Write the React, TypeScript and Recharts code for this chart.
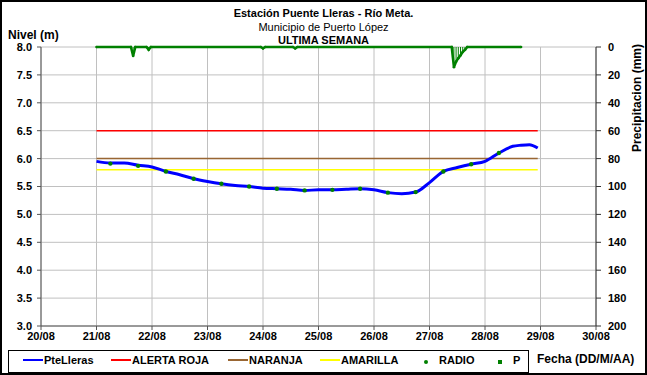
import React from 'react';
import { ComposedChart, Line, Bar, XAxis, YAxis, CartesianGrid } from 'recharts';

// Fechas (día de agosto) y etiquetas del eje X
const dayTicks = [20, 21, 22, 23, 24, 25, 26, 27, 28, 29, 30];
const dayLabels = ['20/08', '21/08', '22/08', '23/08', '24/08', '25/08', '26/08', '27/08', '28/08', '29/08', '30/08'];

const levelTicks = [3.0, 3.5, 4.0, 4.5, 5.0, 5.5, 6.0, 6.5, 7.0, 7.5, 8.0];
const rainTicks = [0, 20, 40, 60, 80, 100, 120, 140, 160, 180, 200];

// Nivel PteLleras (m)
const levelTime = [
    21.0, 21.25, 21.5, 21.75, 22.0, 22.25, 22.5, 22.75, 23.0, 23.25, 23.5, 23.75,
    24.0, 24.25, 24.5, 24.75, 25.0, 25.25, 25.5, 25.75, 26.0, 26.25, 26.5, 26.75,
    27.0, 27.25, 27.5, 27.75, 28.0, 28.25, 28.5, 28.65, 28.8, 28.95,
];
const levelValue = [
    5.95, 5.92, 5.92, 5.88, 5.85, 5.77, 5.71, 5.64, 5.59, 5.55, 5.52, 5.50,
    5.47, 5.46, 5.45, 5.43, 5.44, 5.44, 5.45, 5.46, 5.44, 5.39, 5.37, 5.40,
    5.57, 5.77, 5.84, 5.90, 5.95, 6.10, 6.22, 6.24, 6.25, 6.19,
];

// Lecturas RADIO
const radioTime = [21.25, 21.75, 22.25, 22.75, 23.25, 23.75, 24.25, 24.75, 25.25, 25.75, 26.25, 26.75, 27.25, 27.75, 28.25];
const radioValue = [5.91, 5.87, 5.77, 5.64, 5.55, 5.50, 5.46, 5.43, 5.44, 5.46, 5.39, 5.40, 5.77, 5.90, 6.10];

// Precipitación P (mm)
const rainTime = [21.0, 21.62, 21.66, 21.7, 21.9, 21.94, 21.98, 23.96, 24.0, 24.04, 24.54, 24.58, 24.62, 27.4, 27.44, 27.48, 27.52, 27.56, 27.6, 27.64, 27.68, 28.65];
const rainValue = [0, 0, 6.5, 0, 0, 2, 0, 0, 1, 0, 0, 1, 0, 0, 14.5, 10.5, 8, 6, 3.5, 2, 0, 0];

// Umbrales de alerta (m)
const alertStart = 21.0;
const alertEnd = 28.95;
const alertRoja = 6.5;
const alertNaranja = 6.0;
const alertAmarilla = 5.8;

const key = (t: number) => t.toFixed(3);
const rows: Record<string, any> = {};
const row = (t: number) => {
    const k = key(t);
    if (!rows[k]) rows[k] = { t };
    return rows[k];
};
levelTime.forEach((t, i) => { row(t).nivel = levelValue[i]; });
radioTime.forEach((t, i) => { row(t).radio = radioValue[i]; });
rainTime.forEach((t, i) => {
    row(t).p = rainValue[i];
    if (rainValue[i] > 0) row(t).pBar = rainValue[i];
});
[alertStart, alertEnd].forEach((t) => {
    const r = row(t);
    r.roja = alertRoja;
    r.naranja = alertNaranja;
    r.amarilla = alertAmarilla;
});
const chartData = Object.values(rows).sort((a, b) => a.t - b.t);

const legendItems = [
    { label: 'PteLleras', color: '#0000ff', kind: 'line', x: 20 },
    { label: 'ALERTA ROJA', color: '#ff0000', kind: 'line', x: 108 },
    { label: 'NARANJA', color: '#996633', kind: 'line', x: 225 },
    { label: 'AMARILLA', color: '#ffff00', kind: 'line', x: 317 },
    { label: 'RADIO', color: '#008000', kind: 'dot', x: 418 },
    { label: 'P', color: '#008000', kind: 'dot', x: 492 },
];

const font = '"Liberation Sans", Arial, sans-serif';
const tickStyle = { fontSize: 11, fontWeight: 700, fill: '#000', fontFamily: font };

const App: React.FC = () => {
    return (
        <div style={{ position: 'absolute', left: 0, top: 0, width: 647, height: 375, border: '2px solid #000', boxSizing: 'border-box', background: '#fff', fontFamily: font, color: '#000' }}>
            <div style={{ position: 'absolute', left: 0, width: 643, top: 5, textAlign: 'center', fontSize: 11, lineHeight: '13.5px' }}>
                <div style={{ fontWeight: 700 }}>Estación Puente Lleras - Río Meta.</div>
                <div>Municipio de Puerto López</div>
                <div style={{ fontWeight: 700 }}>ULTIMA SEMANA</div>
            </div>
            <div style={{ position: 'absolute', left: 6, top: 26, fontSize: 12, fontWeight: 700 }}>Nivel (m)</div>
            <div style={{ position: 'absolute', left: 635, top: 96, width: 0, height: 0 }}>
                <div style={{ position: 'absolute', transform: 'translate(-50%, -50%) rotate(-90deg)', whiteSpace: 'nowrap', fontSize: 12, fontWeight: 700 }}>
                    Precipitacion (mm)
                </div>
            </div>

            <div style={{ position: 'absolute', left: 0, top: 0 }}>
                <ComposedChart width={643} height={371} data={chartData} margin={{ top: 45, right: 0, bottom: 25, left: 0 }}>
                    <CartesianGrid stroke="#c0c0c0" yAxisId="lvl" />
                    <XAxis
                        dataKey="t"
                        type="number"
                        domain={[20, 30]}
                        ticks={dayTicks}
                        tickFormatter={(d: number) => dayLabels[dayTicks.indexOf(d)]}
                        tick={tickStyle}
                        tickSize={4}
                        tickMargin={2}
                        height={22}
                        stroke="#555"
                        interval={0}
                    />
                    <YAxis
                        yAxisId="lvl"
                        domain={[3, 8]}
                        ticks={levelTicks}
                        tickFormatter={(v: number) => v.toFixed(1)}
                        tick={tickStyle}
                        tickSize={4}
                        tickMargin={5}
                        width={39}
                        stroke="#555"
                        interval={0}
                    />
                    <YAxis
                        yAxisId="p"
                        orientation="right"
                        reversed
                        domain={[0, 200]}
                        ticks={rainTicks}
                        tick={tickStyle}
                        tickSize={5}
                        tickMargin={7}
                        width={49}
                        stroke="#333"
                        interval={0}
                    />
                    <Line yAxisId="lvl" dataKey="roja" stroke="#ff0000" strokeWidth={1.5} dot={false} connectNulls isAnimationActive={false} />
                    <Line yAxisId="lvl" dataKey="naranja" stroke="#996633" strokeWidth={1.5} dot={false} connectNulls isAnimationActive={false} />
                    <Line yAxisId="lvl" dataKey="amarilla" stroke="#ffff00" strokeWidth={1.5} dot={false} connectNulls isAnimationActive={false} />
                    <Bar yAxisId="p" dataKey="pBar" fill="#008000" barSize={1} isAnimationActive={false} />
                    <Line yAxisId="p" dataKey="p" stroke="#008000" strokeWidth={2.5} dot={{ r: 1.3, fill: '#008000', stroke: 'none' }} connectNulls isAnimationActive={false} />
                    <Line yAxisId="lvl" type="monotone" dataKey="nivel" stroke="#0000ff" strokeWidth={3} dot={false} connectNulls isAnimationActive={false} />
                    <Line yAxisId="lvl" dataKey="radio" stroke="none" dot={{ r: 2.2, fill: '#008000', stroke: 'none' }} connectNulls isAnimationActive={false} />
                </ComposedChart>
            </div>

            <div style={{ position: 'absolute', left: 6, top: 348, width: 521, height: 23, border: '1px solid #000', boxSizing: 'border-box' }}>
                {legendItems.map((it) => (
                    <div key={it.label} style={{ position: 'absolute', left: it.x - 6, top: 3, display: 'flex', alignItems: 'center', fontSize: 11, fontWeight: 700, whiteSpace: 'nowrap' }}>
                        {it.kind === 'line' ? (
                            <span style={{ display: 'inline-block', width: 20, height: 2, background: it.color }} />
                        ) : (
                            <span style={{ display: 'inline-block', width: 10, textAlign: 'center' }}>
                                <span style={{ display: 'inline-block', width: 4, height: 4, borderRadius: it.label === 'P' ? 0 : 2, background: it.color }} />
                            </span>
                        )}
                        <span style={{ marginLeft: it.kind === 'line' ? 1 : 8 }}>{it.label}</span>
                    </div>
                ))}
            </div>
            <div style={{ position: 'absolute', left: 535, top: 350, fontSize: 12, fontWeight: 700, whiteSpace: 'nowrap' }}>Fecha (DD/M/AA)</div>
        </div>
    );
};

export default App;
